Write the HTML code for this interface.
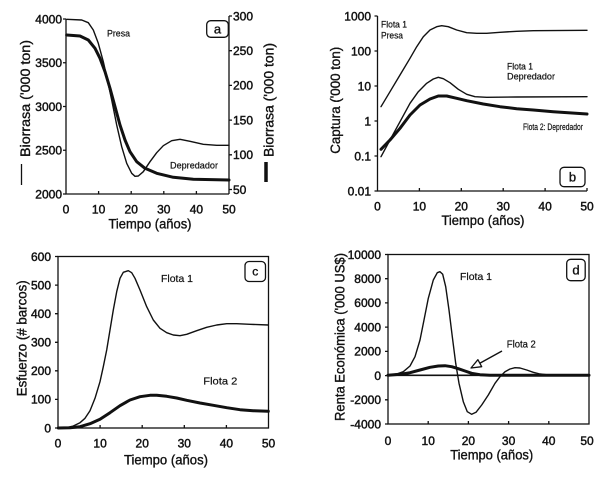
<!DOCTYPE html>
<html><head><meta charset="utf-8"><style>
html,body{margin:0;padding:0;background:#fff;}
svg{display:block;}
text{font-family:"Liberation Sans",Arial,sans-serif;fill:#111;stroke:#111;stroke-width:0.35;}
.t{font-size:12px;stroke-width:0.45;}
.ti{font-size:13.5px;}
.an{font-size:9.5px;stroke-width:0.2;}
.an2{font-size:10.5px;stroke-width:0.2;}
.ax{stroke:#111;stroke-width:1.3;fill:none;}
.thin{stroke:#111;stroke-width:1.4;fill:none;stroke-linejoin:round;stroke-linecap:round;}
.thick{stroke:#111;stroke-width:3;fill:none;stroke-linejoin:round;stroke-linecap:round;}
</style></head><body>
<svg width="600" height="479" viewBox="0 0 600 479" xmlns="http://www.w3.org/2000/svg">
<rect width="600" height="479" fill="#fff"/>

<!-- ============ PANEL A ============ -->
<g>
<path class="ax" d="M66,19 V194 H229 M229,16 V194"/>
<path class="ax" d="M63,19 H66 M63,62.75 H66 M63,106.5 H66 M63,150.25 H66 M63,194 H66"/>
<path class="ax" d="M229,16 H232 M229,50.7 H232 M229,85.4 H232 M229,120.1 H232 M229,154.8 H232 M229,189.5 H232"/>
<path class="ax" d="M98.6,194 V191 M131.2,194 V191 M163.8,194 V191 M196.4,194 V191"/>
<text class="t" x="62" y="23.3" text-anchor="end">4000</text>
<text class="t" x="62" y="67" text-anchor="end">3500</text>
<text class="t" x="62" y="110.8" text-anchor="end">3000</text>
<text class="t" x="62" y="154.5" text-anchor="end">2500</text>
<text class="t" x="62" y="198.3" text-anchor="end">2000</text>
<text class="t" x="233" y="20.3">300</text>
<text class="t" x="233" y="55">250</text>
<text class="t" x="233" y="89.7">200</text>
<text class="t" x="233" y="124.4">150</text>
<text class="t" x="233" y="159.1">100</text>
<text class="t" x="233" y="193.8">50</text>
<text class="t" x="66" y="213.6" text-anchor="middle">0</text>
<text class="t" x="98.6" y="213.6" text-anchor="middle">10</text>
<text class="t" x="131.2" y="213.6" text-anchor="middle">20</text>
<text class="t" x="163.8" y="213.6" text-anchor="middle">30</text>
<text class="t" x="196.4" y="213.6" text-anchor="middle">40</text>
<text class="t" x="229" y="213.6" text-anchor="middle">50</text>
<text class="ti" x="150" y="228.5" text-anchor="middle" textLength="83" lengthAdjust="spacingAndGlyphs">Tiempo (años)</text>
<text class="ti" transform="translate(30,98.5) rotate(-90)" text-anchor="middle" textLength="117" lengthAdjust="spacingAndGlyphs">Biorrasa ('000 ton)</text>
<line x1="21.5" y1="164" x2="21.5" y2="185" stroke="#111" stroke-width="1.3"/>
<text class="ti" transform="translate(273.5,100) rotate(-90)" text-anchor="middle" textLength="114" lengthAdjust="spacingAndGlyphs">Biorrasa ('000 ton)</text>
<line x1="266" y1="162" x2="266" y2="182" stroke="#111" stroke-width="3.5"/>
<text class="an" x="107" y="36.5" textLength="23" lengthAdjust="spacingAndGlyphs">Presa</text>
<text class="an" x="170" y="168.5" textLength="48" lengthAdjust="spacingAndGlyphs">Depredador</text>
<rect x="206.7" y="20.7" width="21.6" height="16.6" rx="4" fill="#fff" stroke="#111" stroke-width="1.3"/>
<text x="217.5" y="33.5" text-anchor="middle" style="font-size:13px">a</text>
<polyline class="thin" points="66.7,19.3 81.7,20 88.3,22.7 93.3,30 98.3,43.3 103.3,61.7 106.7,76.7 111.7,100 116.7,125 121.7,146.7 126.7,163.3 131.7,173.3 135,176.3 138.3,176 143.3,171.7 150,161.7 156.7,152.7 163.3,145.7 171.7,140.7 180,139.3 190,141.3 203.3,144.3 216.7,145.3 229,145.3"/>
<polyline class="thick" points="66.7,35 80,36 88.3,40 95,48.3 100,58.3 105,71.7 110,88.3 115,106.7 120,125 125,140 130,151.7 136.7,161.7 145,168.3 156.7,173.3 173.3,177.3 193.3,179.3 229,180"/>
</g>

<!-- ============ PANEL B ============ -->
<g>
<path class="ax" d="M377.5,16 V191 H587"/>
<path class="ax" d="M374.5,16 H377.5 M374.5,51 H377.5 M374.5,86 H377.5 M374.5,121 H377.5 M374.5,156 H377.5 M374.5,191 H377.5"/>
<path class="ax" d="M419.4,191 V188 M461.3,191 V188 M503.2,191 V188 M545.1,191 V188 M587,191 V188"/>
<text class="t" x="371" y="20.3" text-anchor="end">1000</text>
<text class="t" x="371" y="55.3" text-anchor="end">100</text>
<text class="t" x="371" y="90.3" text-anchor="end">10</text>
<text class="t" x="371" y="125.3" text-anchor="end">1</text>
<text class="t" x="371" y="160.3" text-anchor="end">0.1</text>
<text class="t" x="371" y="195.3" text-anchor="end">0.01</text>
<text class="t" x="377.5" y="210.3" text-anchor="middle">0</text>
<text class="t" x="419.4" y="210.3" text-anchor="middle">10</text>
<text class="t" x="461.3" y="210.3" text-anchor="middle">20</text>
<text class="t" x="503.2" y="210.3" text-anchor="middle">30</text>
<text class="t" x="545.1" y="210.3" text-anchor="middle">40</text>
<text class="t" x="587" y="210.3" text-anchor="middle">50</text>
<text class="ti" x="483" y="225.2" text-anchor="middle" textLength="83" lengthAdjust="spacingAndGlyphs">Tiempo (años)</text>
<text class="ti" transform="translate(340,100.3) rotate(-90)" text-anchor="middle" textLength="107" lengthAdjust="spacingAndGlyphs">Captura ('000 ton)</text>
<text class="an" x="381" y="27.5" textLength="26" lengthAdjust="spacingAndGlyphs">Flota 1</text>
<text class="an" x="381" y="38.5" textLength="22" lengthAdjust="spacingAndGlyphs">Presa</text>
<text class="an" x="507" y="69.3" textLength="26" lengthAdjust="spacingAndGlyphs">Flota 1</text>
<text class="an" x="507" y="79.5" textLength="48" lengthAdjust="spacingAndGlyphs">Depredador</text>
<text class="an" x="523" y="130" textLength="60" lengthAdjust="spacingAndGlyphs">Flota 2: Depredador</text>
<rect x="560" y="167.3" width="25" height="19.4" rx="4" fill="#fff" stroke="#111" stroke-width="1.3"/>
<text x="572.5" y="181.5" text-anchor="middle" style="font-size:13px">b</text>
<polyline class="thin" points="381,106.7 390,91.7 400,75 410,58.3 416.7,46.7 423.3,36.7 430,30 436.7,26.7 441.7,25.7 448.3,26.7 456.7,30 466.7,32.7 476.7,33.3 486.7,33.3 500,32.3 516.7,31.3 533.3,30.7 587,30.3"/>
<polyline class="thin" points="381,156.7 390,140 400,121.7 410,103.3 418.3,91.7 426.7,83.3 433.3,79 438.3,77.3 443.3,78.7 450,82.7 458.3,89.3 466.7,94.3 475,96.7 486.7,97.3 516.7,97 587,96.7"/>
<polyline class="thick" points="381,149.3 390,140 400,128.3 410,115 420,105 430,99 438.3,96 446.7,96 456.7,98.3 466.7,100.7 483.3,104 500,106.7 516.7,108.7 533.3,110 553.3,111.7 587,114"/>
</g>

<!-- ============ PANEL C ============ -->
<g>
<rect class="ax" x="58" y="256.5" width="210.5" height="171.5"/>
<path class="ax" d="M55,428 H58 M55,399.4 H58 M55,370.8 H58 M55,342.3 H58 M55,313.7 H58 M55,285.1 H58 M55,256.5 H58"/>
<path class="ax" d="M100.1,428 V425 M142.2,428 V425 M184.3,428 V425 M226.4,428 V425"/>
<text class="t" x="51" y="432.3" text-anchor="end">0</text>
<text class="t" x="51" y="403.7" text-anchor="end">100</text>
<text class="t" x="51" y="375.1" text-anchor="end">200</text>
<text class="t" x="51" y="346.6" text-anchor="end">300</text>
<text class="t" x="51" y="318" text-anchor="end">400</text>
<text class="t" x="51" y="289.4" text-anchor="end">500</text>
<text class="t" x="51" y="260.8" text-anchor="end">600</text>
<text class="t" x="58" y="447.6" text-anchor="middle">0</text>
<text class="t" x="100.1" y="447.6" text-anchor="middle">10</text>
<text class="t" x="142.2" y="447.6" text-anchor="middle">20</text>
<text class="t" x="184.3" y="447.6" text-anchor="middle">30</text>
<text class="t" x="226.4" y="447.6" text-anchor="middle">40</text>
<text class="t" x="268.5" y="447.6" text-anchor="middle">50</text>
<text class="ti" x="166" y="464.7" text-anchor="middle" textLength="84" lengthAdjust="spacingAndGlyphs">Tiempo (años)</text>
<text class="ti" transform="translate(26.5,338.3) rotate(-90)" text-anchor="middle" textLength="116" lengthAdjust="spacingAndGlyphs">Esfuerzo (# barcos)</text>
<text class="an2" x="177" y="281.8" text-anchor="middle" textLength="32" lengthAdjust="spacingAndGlyphs">Flota 1</text>
<text class="an2" x="220.3" y="384.5" text-anchor="middle" textLength="34" lengthAdjust="spacingAndGlyphs">Flota  2</text>
<rect x="245" y="261.5" width="20.5" height="20" rx="4" fill="#fff" stroke="#111" stroke-width="1.3"/>
<text x="255.3" y="275.5" text-anchor="middle" style="font-size:12px">c</text>
<polyline class="thin" points="58.3,428 66.7,427.5 73.3,426 80,422.7 85,418.3 90,410.7 95,398.3 100,381.7 103.3,366.7 106.7,350 110,330 113.3,310 116.7,291.7 120,278.3 123.3,272.3 128.3,270.7 131.7,272.7 135,278.3 140,290 146.7,306.7 153.3,320 160,328.3 166.7,332.7 173.3,335 180,335.7 186.7,334.3 196.7,330.7 206.7,327.3 216.7,325 226.7,323.7 236.7,323.7 250,324.3 268.3,325"/>
<polyline class="thick" points="58.3,428 70,427.8 80,426.7 90,423.7 100,419.3 110,412.7 120,405.7 130,400 140,396.7 150,395.3 156.7,395.3 166.7,396.3 176.7,398 186.7,400.3 200,403 213.3,405.3 226.7,407.7 240,409.7 253.3,410.7 268.3,411.3"/>
</g>

<!-- ============ PANEL D ============ -->
<g>
<rect class="ax" x="388" y="254.5" width="201" height="169.5"/>
<path class="ax" d="M385,254.5 H388 M385,278.7 H388 M385,302.9 H388 M385,327.1 H388 M385,351.4 H388 M385,375.6 H388 M385,399.8 H388 M385,424 H388"/>
<path class="ax" d="M428.2,424 V421 M468.4,424 V421 M508.6,424 V421 M548.8,424 V421"/>
<text class="t" x="381" y="258.8" text-anchor="end">10000</text>
<text class="t" x="381" y="283" text-anchor="end">8000</text>
<text class="t" x="381" y="307.2" text-anchor="end">6000</text>
<text class="t" x="381" y="331.4" text-anchor="end">4000</text>
<text class="t" x="381" y="355.7" text-anchor="end">2000</text>
<text class="t" x="381" y="379.9" text-anchor="end">0</text>
<text class="t" x="381" y="404.1" text-anchor="end">-2000</text>
<text class="t" x="381" y="428.3" text-anchor="end">-4000</text>
<text class="t" x="388" y="445" text-anchor="middle">0</text>
<text class="t" x="428.2" y="445" text-anchor="middle">10</text>
<text class="t" x="468.4" y="445" text-anchor="middle">20</text>
<text class="t" x="508.6" y="445" text-anchor="middle">30</text>
<text class="t" x="548.8" y="445" text-anchor="middle">40</text>
<text class="t" x="587" y="445" text-anchor="middle">50</text>
<text class="ti" x="491.7" y="459.7" text-anchor="middle" textLength="83" lengthAdjust="spacingAndGlyphs">Tiempo (años)</text>
<text class="ti" transform="translate(344.5,337) rotate(-90)" text-anchor="middle" textLength="168" lengthAdjust="spacingAndGlyphs">Renta Económica ('000 US$)</text>
<text class="an2" x="476" y="280" text-anchor="middle" textLength="32" lengthAdjust="spacingAndGlyphs">Flota 1</text>
<text class="an2" x="521.3" y="347.7" text-anchor="middle" textLength="29" lengthAdjust="spacingAndGlyphs">Flota 2</text>
<rect x="566.7" y="259.3" width="18.5" height="21.4" rx="4" fill="#fff" stroke="#111" stroke-width="1.3"/>
<text x="576" y="274.5" text-anchor="middle" style="font-size:13px">d</text>
<line x1="388" y1="375.3" x2="589" y2="375.3" stroke="#111" stroke-width="1.6"/>
<polyline class="thin" points="387.3,375 396.7,374 403.3,371.7 410,366 415,356.7 420,340 424,320 428.3,298.3 433.3,280 437.3,272.7 440,271.7 442.7,274.3 445.7,286.7 449,310 452.3,336.7 455.7,363.3 459,383.3 463.3,401.7 467.3,411.7 471.7,414.3 476,412.3 481.7,405 488.3,395 495,383.3 500,376.7 505,371.7 510,369 515,367.7 520,368 526.7,370 533.3,372.3 540,374 548.3,375 588.3,375"/>
<polyline class="thick" points="388,375.3 400,374.3 410,372.7 420,370 430,367.3 438.3,366 445,365.7 451.7,366.7 458.3,368.7 465,371 471.7,373.3 480,374.7 490,375.3 589,375.3"/>
<line x1="479.8" y1="363.2" x2="502" y2="351" stroke="#111" stroke-width="1.4"/>
<polygon points="471,368 481.7,366.7 477.9,359.7" fill="#fff" stroke="#111" stroke-width="1.3" stroke-linejoin="round"/>
</g>
</svg>
</body></html>
